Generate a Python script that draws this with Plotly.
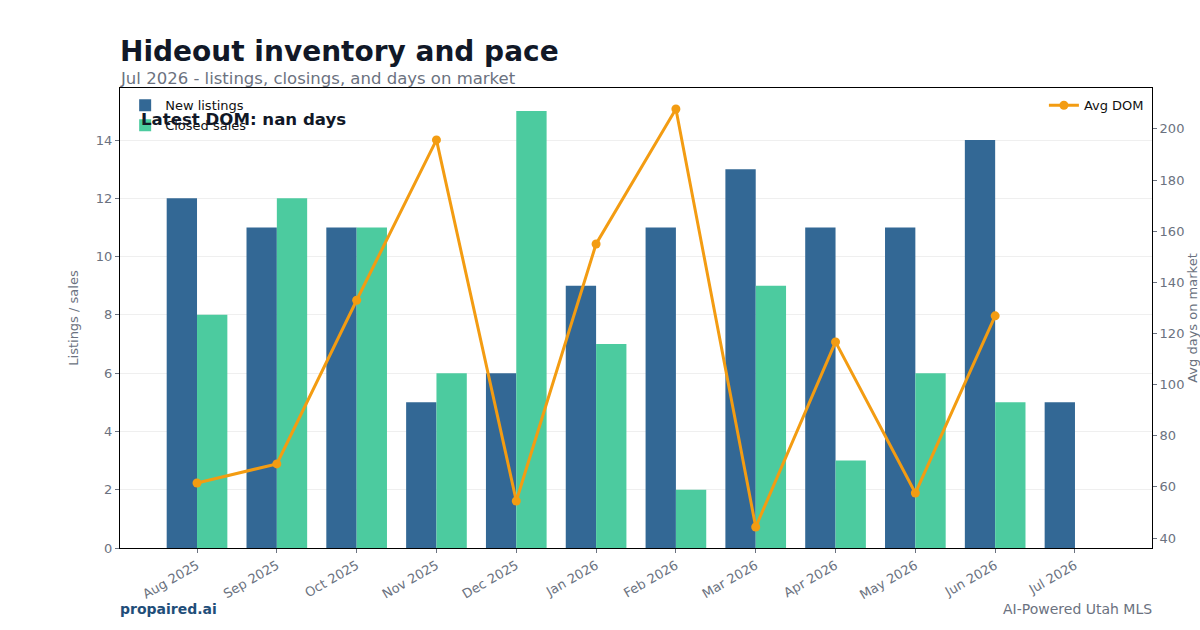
import plotly.graph_objects as go

months = ["Aug 2025", "Sep 2025", "Oct 2025", "Nov 2025", "Dec 2025", "Jan 2026",
          "Feb 2026", "Mar 2026", "Apr 2026", "May 2026", "Jun 2026", "Jul 2026"]
new_listings = [12, 11, 11, 5, 6, 9, 11, 13, 11, 11, 14, 5]
closed_sales = [8, 12, 11, 6, 15, 7, 2, 9, 3, 6, 5, 0]
avg_dom = [61.5, 69, 133, 195.7, 54.5, 155, 207.8, 44.3, 116.7, 57.6, 126.9, None]

NAVY = "#336895"
GREEN = "#4ccb9f"
ORANGE = "#f39c12"
GRAY = "#6b7280"
FONT = "DejaVu Sans"

fig = go.Figure()
fig.add_trace(go.Bar(x=months, y=new_listings, name="New listings",
                     marker=dict(color=NAVY, line=dict(width=0)), legend="legend"))
fig.add_trace(go.Bar(x=months, y=closed_sales, name="Closed sales",
                     marker=dict(color=GREEN, line=dict(width=0)), legend="legend"))
fig.add_trace(go.Scatter(x=months, y=avg_dom, name="Avg DOM", yaxis="y2",
                         mode="lines+markers", line=dict(color=ORANGE, width=3),
                         marker=dict(color=ORANGE, size=9), legend="legend2",
                         connectgaps=False))

fig.update_layout(
    width=1200, height=630,
    margin=dict(l=120, r=48, t=88, b=82, autoexpand=False),
    paper_bgcolor="white", plot_bgcolor="white",
    font=dict(family=FONT, color=GRAY, size=13),
    barmode="group", bargap=0.24, bargroupgap=0,
    showlegend=True,
    legend=dict(x=0.005, y=0.995, xanchor="left", yanchor="top",
                font=dict(size=13, color="#111111"), bgcolor="rgba(255,255,255,0.8)",
                tracegroupgap=0, itemwidth=30),
    legend2=dict(x=0.997, y=0.995, xanchor="right", yanchor="top",
                 font=dict(size=13, color="#111111"), bgcolor="rgba(255,255,255,0.8)"),
    xaxis=dict(range=[-0.965, 11.965], showline=True, mirror=True, linecolor="black",
               linewidth=1.2, ticks="outside", ticklen=4, tickcolor=GRAY,
               tickangle=-30, tickfont=dict(size=13, color=GRAY), showgrid=False,
               automargin=False),
    yaxis=dict(range=[0, 15.785], dtick=2, showline=True, mirror=True, linecolor="black",
               linewidth=1.2, ticks="outside", ticklen=4, tickcolor=GRAY,
               tickfont=dict(size=13, color=GRAY), showgrid=True, gridcolor="#efefef",
               gridwidth=1, zeroline=False, automargin=False,
               title=dict(text="Listings / sales", font=dict(size=13, color=GRAY), standoff=14)),
    yaxis2=dict(range=[36.1, 216], dtick=20, overlaying="y", side="right",
                ticks="outside", ticklen=4, tickcolor=GRAY, showgrid=False, zeroline=False,
                tickfont=dict(size=13, color=GRAY), automargin=False,
                title=dict(text="Avg days on market", font=dict(size=13, color=GRAY), standoff=13)),
    annotations=[
        dict(text="<b>Hideout inventory and pace</b>", xref="paper", yref="paper",
             x=0, y=1.080, xanchor="left", yanchor="middle", showarrow=False, xshift=-2,
             font=dict(size=28, color="#111827", family=FONT)),
        dict(text="Jul 2026 - listings, closings, and days on market", xref="paper", yref="paper",
             x=0, y=1.0217, xanchor="left", yanchor="middle", showarrow=False, xshift=-2,
             font=dict(size=16.5, color=GRAY, family=FONT)),
        dict(text="<b>Latest DOM: nan days</b>", xref="paper", yref="paper",
             x=0.0203, y=0.9326, xanchor="left", yanchor="middle", showarrow=False, xshift=-2,
             font=dict(size=16.6, color="#111827", family=FONT)),
        dict(text="<b>propaired.ai</b>", xref="paper", yref="paper",
             x=0, y=-0.1326, xanchor="left", yanchor="middle", showarrow=False, xshift=-2,
             font=dict(size=14, color="#1f4e79", family=FONT)),
        dict(text="AI-Powered Utah MLS", xref="paper", yref="paper",
             x=1, y=-0.1326, xanchor="right", yanchor="middle", showarrow=False, xshift=2,
             font=dict(size=14, color=GRAY, family=FONT)),
    ],
)

fig.write_html("out.html")
